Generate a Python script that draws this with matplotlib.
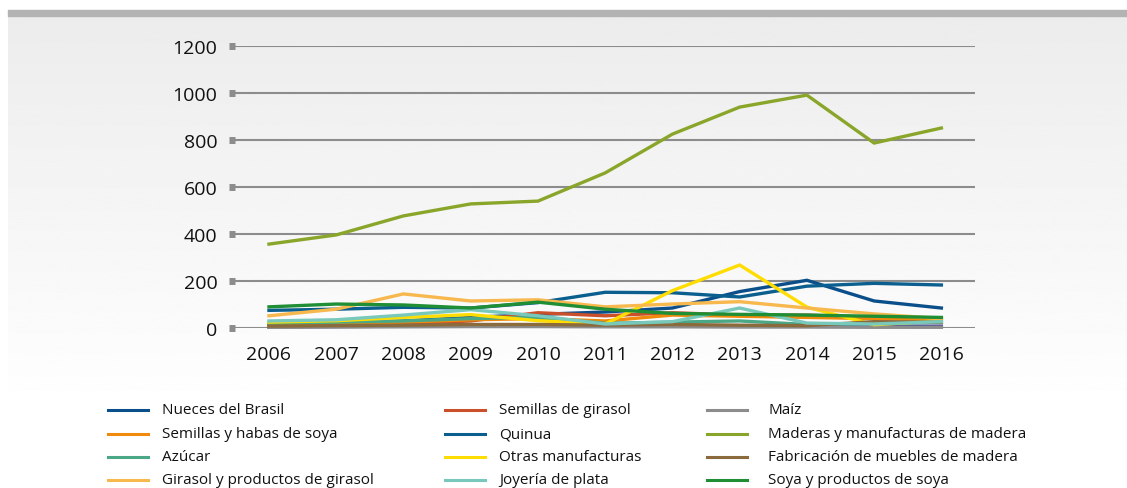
import numpy as np
import matplotlib.pyplot as plt
from matplotlib.lines import Line2D

# Datos
anios = [2006, 2007, 2008, 2009, 2010, 2011, 2012, 2013, 2014, 2015, 2016]

nueces = [10, 20, 30, 45, 58, 68, 85, 155, 203, 115, 85]
semillas_girasol = [5, 10, 18, 30, 65, 52, 65, 55, 55, 45, 40]
maiz = [3, 4, 5, 6, 6, 5, 5, 4, 4, 3, 3]
semillas_soya = [15, 20, 25, 35, 40, 30, 55, 50, 45, 40, 35]
quinua = [75, 80, 88, 85, 108, 152, 150, 132, 178, 190, 183]
maderas = [357, 396, 477, 528, 540, 660, 825, 940, 991, 787, 851]
azucar = [20, 25, 30, 40, 45, 20, 25, 30, 15, 20, 25]
otras_manuf = [25, 31, 45, 57, 31, 17, 159, 268, 89, 14, 31]
muebles = [8, 10, 12, 15, 15, 12, 15, 12, 10, 27, 25]
girasol_prod = [52, 80, 145, 115, 120, 90, 102, 112, 85, 60, 40]
joyeria = [30, 35, 55, 78, 52, 17, 27, 85, 21, 17, 27]
soya_prod = [90, 102, 98, 85, 110, 80, 62, 58, 55, 50, 45]
base = [5, 6, 8, 10, 12, 10, 10, 10, 8, 8, 8]

series = [
    ("Nueces del Brasil", nueces, "#0b4f8a"),
    ("Semillas de girasol", semillas_girasol, "#c9502a"),
    ("Maíz", maiz, "#8c8c8c"),
    ("Semillas y habas de soya", semillas_soya, "#ef8a0c"),
    ("Quinua", quinua, "#0a5f8f"),
    ("Maderas y manufacturas de madera", maderas, "#8aa62a"),
    ("Azúcar", azucar, "#4aa886"),
    ("Otras manufacturas", otras_manuf, "#ffdd00"),
    ("Fabricación de muebles de madera", muebles, "#8b6a3c"),
    ("Girasol y productos de girasol", girasol_prod, "#f7b84e"),
    ("Joyería de plata", joyeria, "#78c8bc"),
    ("Soya y productos de soya", soya_prod, "#1f8e34"),
]

plt.rcParams['font.family'] = ['Open Sans', 'DejaVu Sans']

fig = plt.figure(figsize=(11.27, 4.89), dpi=100)

# Fondo con degradado y franja superior
fondo = fig.add_axes([0, 0, 1, 1], zorder=-10)
fondo.axis("off")
grad = np.linspace(0.925, 0.995, 200).reshape(-1, 1)
fondo.imshow(grad, cmap="gray", vmin=0, vmax=1, extent=[8, 1127, 392, 17], aspect="auto")
fondo.fill_between([8, 1127], 11, 17, color="#b3b3b3")
fondo.set_xlim(0, 1127)
fondo.set_ylim(489, 0)

ax = fig.add_axes([232 / 1127, 1 - 329 / 489, (975 - 232) / 1127, (329 - 47) / 489])
ax.patch.set_alpha(0)

ax.plot(anios, base, color="#474e98", linewidth=2.4, clip_on=False)
for nombre, valores, color in series:
    ax.plot(anios, valores, color=color, linewidth=2.4, clip_on=False, solid_joinstyle="miter")

ax.set_xlim(2005.45, 2016.5)
ax.set_ylim(0, 1200)
ax.set_yticks(range(0, 1201, 200))
ax.set_xticks(anios)
ax.yaxis.grid(True, color="#8c8c8c", linewidth=1.5, zorder=0)
ax.set_axisbelow(True)
for s in ax.spines.values():
    s.set_visible(False)
ax.tick_params(axis="y", direction="inout", length=5, width=5, color="#8c8c8c",
               labelsize=14, pad=8)
ax.tick_params(axis="x", length=0, labelsize=14, pad=12)
for lbl in ax.get_xticklabels() + ax.get_yticklabels():
    lbl.set_color("#111111")

# Leyenda manual en tres columnas
col_linea = [108, 445, 707]
col_texto = [162, 499, 768]
filas = [411, 435, 458, 481]
for i, (nombre, valores, color) in enumerate(series):
    fila, col = divmod(i, 3)
    y = 1 - filas[fila] / 489
    x0 = col_linea[col] / 1127
    fig.add_artist(Line2D([x0, x0 + 40 / 1127], [y, y], color=color, linewidth=2.2))
    fig.text(col_texto[col] / 1127, y, nombre, fontsize=11, va="center", ha="left", color="#111111")

fig.savefig("out.png", dpi=100)
